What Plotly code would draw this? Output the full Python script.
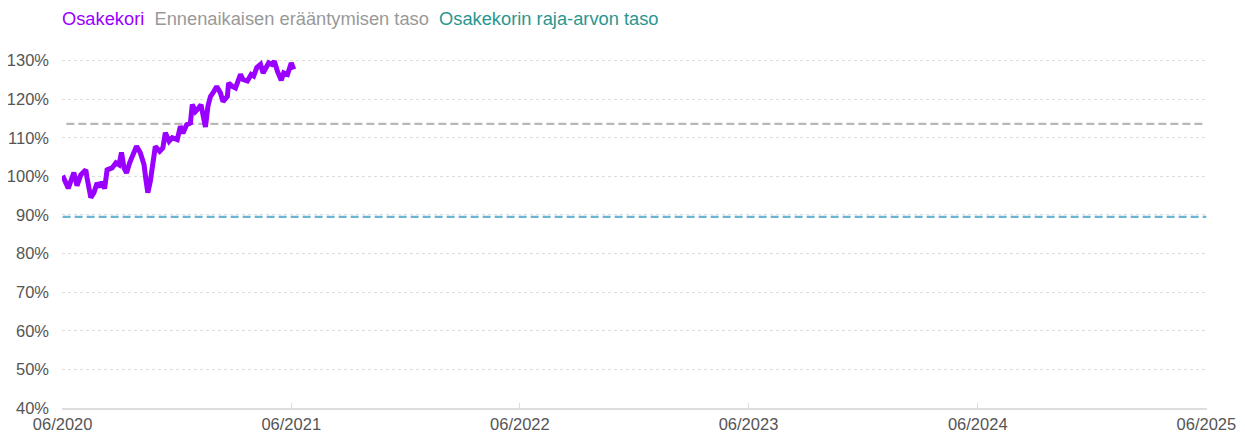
import plotly.graph_objects as go

dates = ["2020-06-01","2020-06-10","2020-06-19","2020-06-24","2020-06-30","2020-07-08","2020-07-10",
         "2020-07-16","2020-07-21","2020-07-26","2020-07-31","2020-08-03","2020-08-07","2020-08-11",
         "2020-08-19","2020-08-25","2020-08-30","2020-09-03","2020-09-07","2020-09-11","2020-09-16",
         "2020-09-27","2020-10-03","2020-10-09","2020-10-12","2020-10-15","2020-10-19","2020-10-23",
         "2020-10-27","2020-11-03","2020-11-08","2020-11-12","2020-11-18","2020-11-23","2020-12-01",
         "2020-12-06","2020-12-10","2020-12-16","2020-12-22","2020-12-25","2020-12-30","2021-01-04",
         "2021-01-08","2021-01-11","2021-01-15","2021-01-19","2021-01-23","2021-01-27","2021-02-02",
         "2021-02-08","2021-02-12","2021-02-19","2021-02-21","2021-02-27","2021-03-04","2021-03-07",
         "2021-03-12","2021-03-16","2021-03-23","2021-03-29","2021-04-02","2021-04-07","2021-04-13",
         "2021-04-17","2021-04-22","2021-04-26","2021-05-01","2021-05-05","2021-05-10","2021-05-16",
         "2021-05-20","2021-05-26","2021-06-01","2021-06-05"]
osakekori = [100.2,96.9,101.0,97.6,100.4,101.7,99.6,
             94.5,95.8,98.3,97.3,98.6,96.8,101.7,
             102.2,103.5,103.0,106.2,102.2,100.9,103.5,
             107.8,106.1,103.0,99.1,95.8,98.7,104.3,
             107.8,106.5,107.4,111.3,109.1,110.0,109.5,
             113.0,111.2,113.4,113.8,118.6,116.8,117.7,
             118.6,116.0,112.8,118.2,120.7,121.6,123.3,
             121.6,119.4,120.7,124.2,123.3,122.9,124.2,
             126.4,125.1,124.7,126.4,126.0,128.2,129.0,
             126.8,128.5,129.4,129.0,129.8,127.2,124.9,
             126.8,126.4,129.4,127.7]

level_dates = ["2020-06-01", "2025-06-01"]
ennenaikainen_taso = 113.6
raja_arvon_taso = 89.5

tick_dates = ["2020-06-01","2021-06-01","2022-06-01","2023-06-01","2024-06-01","2025-06-01"]
tick_labels = ["06/2020","06/2021","06/2022","06/2023","06/2024","06/2025"]
y_ticks = [40,50,60,70,80,90,100,110,120,130]
y_labels = [f"{v}%" for v in y_ticks]

PURPLE = "#9900ff"
GREY_TXT = "#999999"
TEAL_TXT = "#2a9690"

fig = go.Figure()
fig.add_trace(go.Scatter(x=level_dates, y=[raja_arvon_taso]*2, mode="lines",
                         line=dict(color="#6bb5d0", width=2.2, dash="8px,4px"), hoverinfo="skip"))
fig.add_trace(go.Scatter(x=["2020-06-07", level_dates[1]], y=[ennenaikainen_taso]*2, mode="lines",
                         line=dict(color="#b8b8b8", width=2.2, dash="8px,4px"), hoverinfo="skip"))
fig.add_trace(go.Scatter(x=dates, y=osakekori, mode="lines",
                         line=dict(color=PURPLE, width=5), line_shape="linear"))

fig.update_layout(
    width=1229, height=424,
    margin=dict(l=54, r=30, t=41, b=24, autoexpand=False),
    paper_bgcolor="white", plot_bgcolor="white",
    showlegend=False,
    font=dict(family="Liberation Sans, Arial, sans-serif", size=16, color="#555555"),
    annotations=[dict(
        xref="paper", yref="paper", x=0, y=1, yshift=31, xanchor="left", yanchor="middle",
        xshift=-2, showarrow=False, font=dict(size=18.3),
        text=(f"<span style='color:{PURPLE}'>Osakekori</span>&nbsp;&nbsp;"
              f"<span style='color:{GREY_TXT}'>Ennenaikaisen erääntymisen taso</span>&nbsp;&nbsp;"
              f"<span style='color:{TEAL_TXT}'>Osakekorin raja-arvon taso</span>"))],
)
fig.update_xaxes(range=["2020-05-31", "2025-06-02"], tickvals=tick_dates, ticktext=tick_labels,
                 showgrid=False, showline=True, linecolor="#dddddd", linewidth=2,
                 ticks="inside", ticklen=5, tickcolor="#dddddd", zeroline=False, automargin=False,
                 tickfont=dict(size=16.5, color="#555555"))
fig.update_yaxes(range=[40, 133], tickvals=y_ticks, ticktext=y_labels,
                 showgrid=True, gridcolor="#dddddd", griddash="dot", gridwidth=1,
                 showline=False, zeroline=False, ticks="", ticklabelstandoff=12, automargin=False,
                 tickfont=dict(size=16.5, color="#555555"))

fig.write_html("out.html")
